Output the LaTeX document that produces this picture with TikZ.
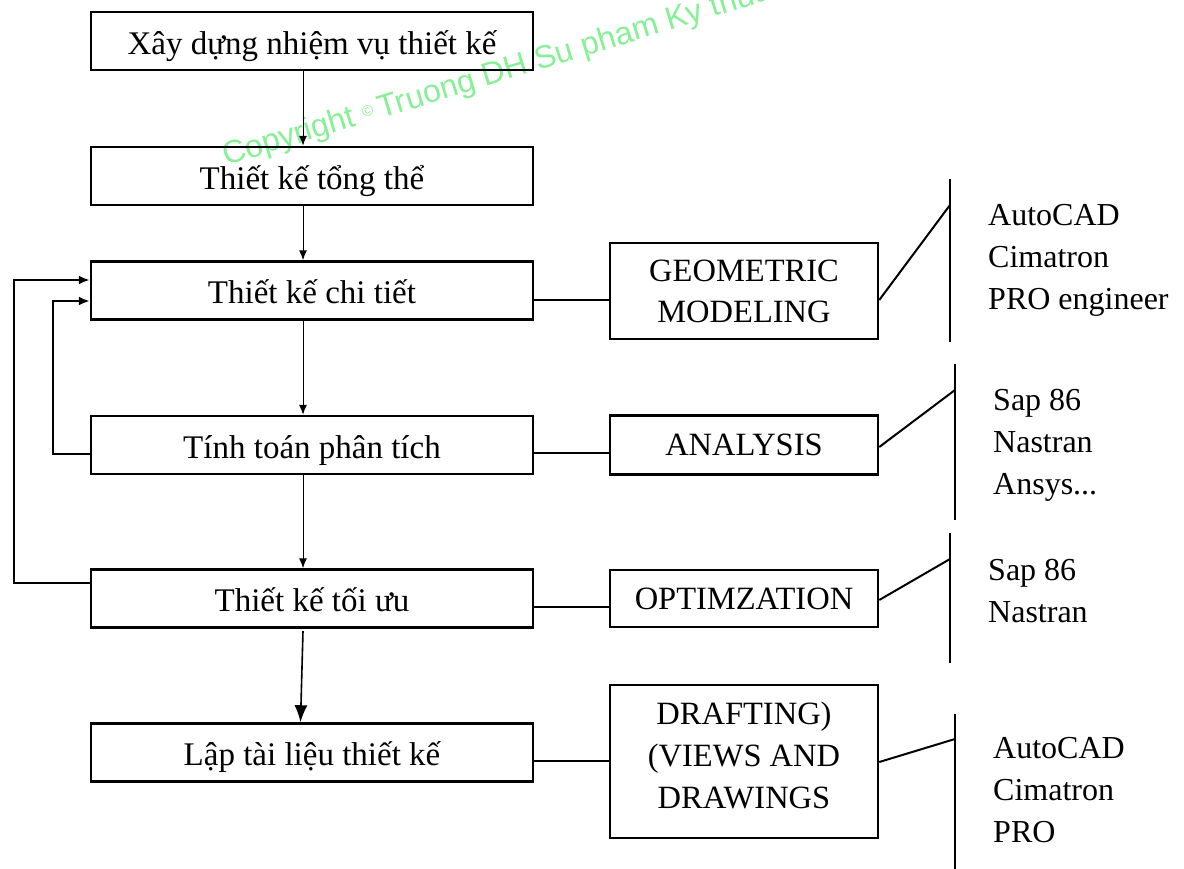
\documentclass[tikz,border=0pt]{standalone}
\usepackage{fontspec}
\setmainfont{Liberation Serif}
\newfontfamily\wmfont{Liberation Sans}
\usetikzlibrary{arrows.meta}
\definecolor{wmgreen}{RGB}{135,240,150}
\begin{document}
\begin{tikzpicture}[x=1pt,y=-1pt,
  stage/.style={draw, line width=2.5pt, minimum width=442pt, minimum height=58pt, inner sep=0pt,
    font=\fontsize{33}{42}\selectfont, text height=26pt, text depth=0pt},
  tool/.style={draw, line width=2.5pt, minimum width=268pt, inner sep=0pt, align=center,
    font=\fontsize{32.5}{41}\selectfont},
  caption/.style={inner sep=0pt, align=center, font=\fontsize{32.5}{42}\selectfont},
  flow/.style={line width=1pt, -{Latex[length=10pt,width=8pt]}},
  bigflow/.style={line width=1.6pt, -{Latex[length=17pt,width=13pt]}},
  back/.style={line width=2pt, -{Latex[length=11pt,width=9pt]}},
  link/.style={line width=2.8pt},
  slant/.style={line width=2pt},
  bar/.style={line width=2.5pt},
  soft/.style={align=left, anchor=west, inner sep=0pt, font=\fontsize{32}{42}\selectfont}
]
\useasboundingbox (0,0) rectangle (1184,868);

% watermark
\begin{scope}
\clip (0,0) rectangle (1184,868);
\node[rotate=17, anchor=base west, inner sep=0pt, text=wmgreen,
      font=\wmfont\fontsize{32}{32}\selectfont] (wm) at (226,166)
  {Copyright \raisebox{6pt}{\fontsize{15}{15}\selectfont ©}\,Truong DH Su pham Ky thuat};
\end{scope}

% design stages
\node[stage] (b1) at (312,41)    {Xây dựng nhiệm vụ thiết kế};
\node[stage] (b2) at (312,176)   {Thiết kế tổng thể};
\node[stage] (b3) at (312,290.5) {Thiết kế chi tiết};
\node[stage] (b4) at (312,445)   {Tính toán phân tích};
\node[stage] (b5) at (312,598.5) {Thiết kế tối ưu};
\node[stage] (b6) at (312,752.5) {Lập tài liệu thiết kế};

% CAD modules
\node[tool, minimum height=96pt]  (geo) at (744,291)   {GEOMETRIC\\MODELING};
\node[tool, minimum height=59pt]  (ana) at (744,445)   {ANALYSIS};
\node[tool, minimum height=57pt]  (opt) at (744,598.5) {OPTIMZATION};
\node[tool, minimum height=153pt] (dra) at (744,761.5) {};
\node[caption] (dratext) at (744,755) {DRAFTING)\\(VIEWS AND\\DRAWINGS};

% main flow
\coordinate (ax) at (303,0);
\draw[flow] (b1.south -| ax) -- (b2.north -| ax);
\draw[flow] (b2.south -| ax) -- (b3.north -| ax);
\draw[flow] (b3.south -| ax) -- (b4.north -| ax);
\draw[flow] (b4.south -| ax) -- (b5.north -| ax);
\coordinate (d1) at (303,631);
\coordinate (d2) at (300.5,0);
\draw[bigflow] (d1) -- (b6.north -| d2);

% feedback loops
\coordinate (o1) at (13.6,583);
\coordinate (o2) at (13.6,280);
\draw[back] (b5.west |- o1) -- (o1) -- (o2) -- (b3.west |- o2);
\coordinate (i1) at (53,454);
\coordinate (i2) at (53,301);
\draw[back] (b4.west |- i1) -- (i1) -- (i2) -- (b3.west |- i2);

% links to modules
\coordinate (y3) at (0,300);
\coordinate (y4) at (0,453);
\coordinate (y5) at (0,607);
\coordinate (y6) at (0,761);
\draw[link] (b3.east |- y3) -- (geo.west |- y3);
\draw[link] (b4.east |- y4) -- (ana.west |- y4);
\draw[link] (b5.east |- y5) -- (opt.west |- y5);
\draw[link] (b6.east |- y6) -- (dra.west |- y6);

% software brackets
\coordinate (v1t) at (950,179); \coordinate (v1j) at (950,205); \coordinate (v1b) at (950,342);
\coordinate (v2t) at (955,364); \coordinate (v2j) at (955,390); \coordinate (v2b) at (955,520);
\coordinate (v3t) at (950,533); \coordinate (v3j) at (950,559); \coordinate (v3b) at (950,663);
\coordinate (v4t) at (955,714); \coordinate (v4j) at (955,739); \coordinate (v4b) at (955,870);
\draw[bar] (v1t) -- (v1b);
\draw[bar] (v2t) -- (v2b);
\draw[bar] (v3t) -- (v3b);
\draw[bar] (v4t) -- (v4b);
\draw[slant] (geo.east |- 0,300) -- (v1j);
\draw[slant] (ana.east |- 0,447) -- (v2j);
\draw[slant] (opt.east |- 0,600) -- (v3j);
\draw[slant] (dra.east |- 0,762) -- (v4j);

% software lists
\node[soft] (s1) at (988,260) {AutoCAD\\Cimatron\\PRO engineer};
\node[soft] (s2) at (993,445) {Sap 86\\Nastran\\Ansys...};
\node[soft] (s3) at (988,591) {Sap 86\\Nastran};
\node[soft] (s4) at (993,790) {AutoCAD\\Cimatron\\PRO};
\end{tikzpicture}
\end{document}
